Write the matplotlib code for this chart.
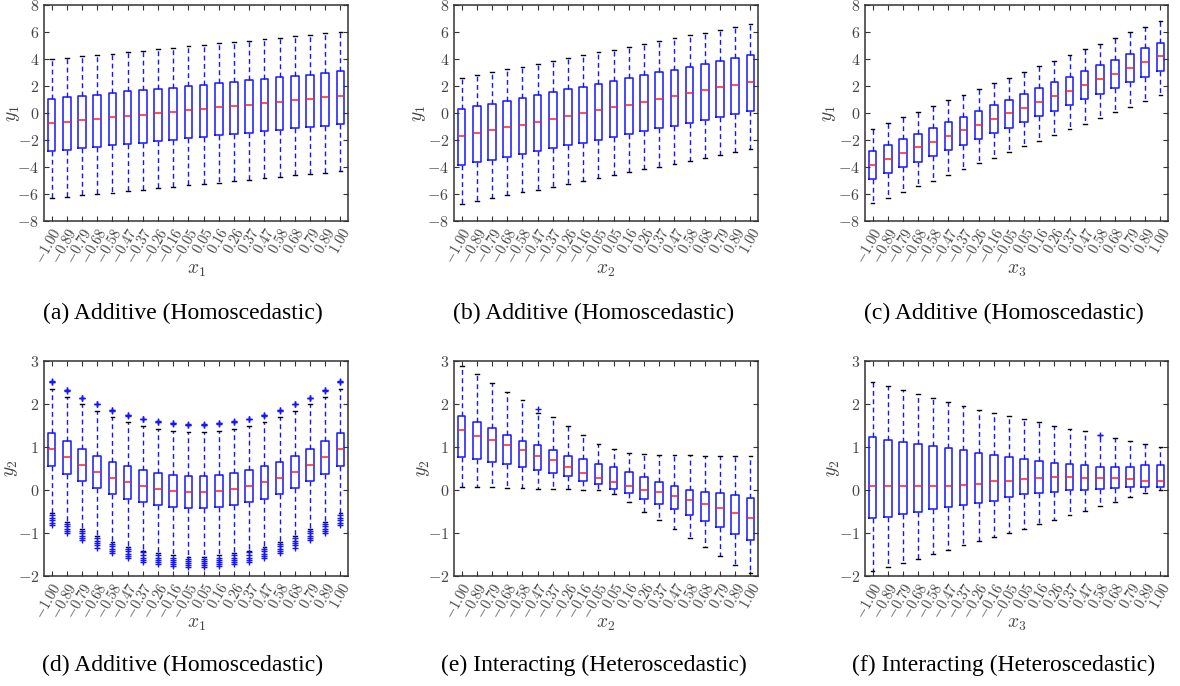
import matplotlib
matplotlib.use("Agg")
import matplotlib.pyplot as plt
import numpy as np

plt.rcParams['mathtext.fontset'] = 'cm'
plt.rcParams['font.family'] = ['Liberation Serif', 'DejaVu Serif']

xticklabels = ["-1.00", "-0.89", "-0.79", "-0.68", "-0.58", "-0.47", "-0.37", "-0.26", "-0.16", "-0.05",
               "0.05", "0.16", "0.26", "0.37", "0.47", "0.58", "0.68", "0.79", "0.89", "1.00"]

# Panel (a)
a_med = [-0.73, -0.65, -0.55, -0.42, -0.32, -0.21, -0.12, 0.00, 0.08, 0.20, 0.32, 0.42, 0.53, 0.62, 0.73, 0.83, 0.93, 1.05, 1.15, 1.27]
a_q3 = [1.03, 1.15, 1.25, 1.35, 1.47, 1.60, 1.67, 1.79, 1.87, 2.00, 2.09, 2.19, 2.31, 2.41, 2.51, 2.64, 2.71, 2.83, 2.93, 3.08]
a_q1 = [-2.83, -2.71, -2.61, -2.49, -2.39, -2.29, -2.19, -2.09, -1.97, -1.85, -1.77, -1.65, -1.55, -1.45, -1.35, -1.23, -1.13, -1.03, -0.93, -0.83]
a_hi = [4.00, 4.10, 4.20, 4.30, 4.40, 4.50, 4.62, 4.72, 4.82, 4.93, 5.05, 5.15, 5.25, 5.35, 5.47, 5.57, 5.67, 5.77, 5.90, 6.03]
a_lo = [-6.30, -6.20, -6.10, -6.00, -5.90, -5.80, -5.68, -5.58, -5.47, -5.35, -5.25, -5.15, -5.05, -4.93, -4.83, -4.72, -4.62, -4.52, -4.42, -4.32]

# Panel (b)
b_med = [-1.70, -1.49, -1.28, -1.07, -0.86, -0.65, -0.43, -0.22, -0.01, 0.20, 0.41, 0.62, 0.83, 1.04, 1.25, 1.46, 1.67, 1.89, 2.10, 2.31]
b_q3 = [0.28, 0.49, 0.70, 0.91, 1.12, 1.33, 1.54, 1.75, 1.96, 2.17, 2.38, 2.59, 2.80, 3.01, 3.22, 3.43, 3.64, 3.85, 4.06, 4.27]
b_q1 = [-3.87, -3.66, -3.45, -3.24, -3.03, -2.82, -2.61, -2.40, -2.19, -1.98, -1.77, -1.56, -1.35, -1.14, -0.93, -0.72, -0.51, -0.30, -0.09, 0.12]
b_hi = [2.61, 2.82, 3.02, 3.23, 3.44, 3.65, 3.86, 4.07, 4.28, 4.49, 4.70, 4.91, 5.12, 5.33, 5.54, 5.75, 5.96, 6.17, 6.38, 6.60]
b_lo = [-6.72, -6.50, -6.30, -6.08, -5.88, -5.67, -5.46, -5.24, -5.03, -4.82, -4.61, -4.40, -4.18, -3.97, -3.76, -3.55, -3.34, -3.13, -2.92, -2.70]

# Panel (c)
c_med = [-3.82, -3.40, -2.98, -2.55, -2.13, -1.71, -1.29, -0.87, -0.45, -0.03, 0.39, 0.81, 1.23, 1.66, 2.08, 2.50, 2.92, 3.34, 3.76, 4.19]
c_q3 = [-2.79, -2.37, -1.95, -1.52, -1.10, -0.68, -0.26, 0.16, 0.58, 1.00, 1.42, 1.84, 2.26, 2.69, 3.11, 3.53, 3.95, 4.37, 4.79, 5.21]
c_q1 = [-4.86, -4.44, -4.02, -3.60, -3.18, -2.76, -2.34, -1.92, -1.50, -1.08, -0.66, -0.24, 0.18, 0.60, 1.02, 1.44, 1.86, 2.28, 2.70, 3.13]
c_hi = [-1.17, -0.75, -0.33, 0.10, 0.52, 0.94, 1.36, 1.78, 2.20, 2.62, 3.04, 3.46, 3.88, 4.30, 4.72, 5.14, 5.56, 5.98, 6.40, 6.84]
c_lo = [-6.68, -6.27, -5.85, -5.42, -5.00, -4.58, -4.16, -3.74, -3.32, -2.90, -2.48, -2.06, -1.64, -1.22, -0.80, -0.38, 0.04, 0.46, 0.88, 1.30]

# Panel (d)
d_med = [0.96, 0.76, 0.58, 0.43, 0.29, 0.18, 0.09, 0.03, -0.02, -0.04, -0.04, -0.02, 0.03, 0.09, 0.18, 0.29, 0.43, 0.58, 0.76, 0.96]
d_q3 = [1.33, 1.13, 0.96, 0.80, 0.66, 0.55, 0.46, 0.39, 0.36, 0.33, 0.33, 0.36, 0.39, 0.46, 0.55, 0.66, 0.80, 0.96, 1.13, 1.33]
d_q1 = [0.565, 0.37, 0.20, 0.04, -0.09, -0.21, -0.29, -0.36, -0.40, -0.43, -0.43, -0.40, -0.36, -0.29, -0.21, -0.09, 0.04, 0.20, 0.37, 0.565]
d_hi = [2.36, 2.17, 1.99, 1.83, 1.70, 1.59, 1.49, 1.43, 1.38, 1.36, 1.36, 1.38, 1.43, 1.49, 1.59, 1.70, 1.83, 1.99, 2.17, 2.36]
d_lo = [-0.54, -0.74, -0.91, -1.08, -1.21, -1.32, -1.41, -1.47, -1.52, -1.55, -1.55, -1.52, -1.47, -1.41, -1.32, -1.21, -1.08, -0.91, -0.74, -0.54]
d_top_out = [2.52, 2.32, 2.14, 2.00, 1.85, 1.74, 1.65, 1.59, 1.55, 1.52, 1.52, 1.55, 1.59, 1.65, 1.74, 1.85, 2.00, 2.14, 2.32, 2.52]
d_low_out = [
    [-0.58, -0.64, -0.70, -0.76, -0.81],
    [-0.78, -0.84, -0.90, -0.95, -1.00],
    [-0.95, -1.01, -1.07, -1.12, -1.17],
    [-1.12, -1.18, -1.24, -1.29, -1.34],
    [-1.26, -1.31, -1.37, -1.42, -1.47],
    [-1.37, -1.43, -1.48, -1.53, -1.58],
    [-1.45, -1.51, -1.57, -1.62, -1.67],
    [-1.52, -1.57, -1.62, -1.67, -1.72],
    [-1.57, -1.62, -1.67, -1.72, -1.77],
    [-1.60, -1.65, -1.70, -1.75, -1.80],
    [-1.60, -1.65, -1.70, -1.75, -1.80],
    [-1.57, -1.62, -1.67, -1.72, -1.77],
    [-1.52, -1.57, -1.62, -1.67, -1.72],
    [-1.45, -1.51, -1.57, -1.62, -1.67],
    [-1.37, -1.43, -1.48, -1.53, -1.58],
    [-1.26, -1.31, -1.37, -1.42, -1.47],
    [-1.12, -1.18, -1.24, -1.29, -1.34],
    [-0.95, -1.01, -1.07, -1.12, -1.17],
    [-0.78, -0.84, -0.90, -0.95, -1.00],
    [-0.58, -0.64, -0.70, -0.76, -0.81],
]

# Panel (e)
e_med = [1.39, 1.26, 1.16, 1.05, 0.92, 0.80, 0.69, 0.54, 0.39, 0.28, 0.18, 0.09, 0.01, -0.05, -0.15, -0.24, -0.33, -0.42, -0.53, -0.66]
e_q3 = [1.71, 1.58, 1.45, 1.29, 1.15, 1.04, 0.92, 0.80, 0.71, 0.61, 0.53, 0.41, 0.31, 0.18, 0.09, 0.01, -0.04, -0.08, -0.12, -0.19]
e_q1 = [0.77, 0.71, 0.66, 0.60, 0.53, 0.47, 0.39, 0.33, 0.22, 0.13, 0.02, -0.08, -0.21, -0.33, -0.45, -0.58, -0.71, -0.87, -1.02, -1.17]
e_hi = [2.89, 2.70, 2.49, 2.28, 2.09, 1.80, 1.69, 1.48, 1.28, 1.07, 0.95, 0.87, 0.83, 0.81, 0.81, 0.81, 0.80, 0.80, 0.80, 0.80]
e_lo = [0.08, 0.07, 0.06, 0.05, 0.04, 0.03, 0.02, 0.02, 0.01, 0.00, -0.09, -0.29, -0.50, -0.70, -0.91, -1.12, -1.33, -1.54, -1.74, -1.94]
e_out = [[], [], [], [], [], [1.89], [], [], [], [], [], [], [], [], [], [], [], [], [], []]

# Panel (f)
f_med = [0.09, 0.09, 0.09, 0.09, 0.09, 0.10, 0.12, 0.15, 0.21, 0.22, 0.25, 0.27, 0.30, 0.31, 0.29, 0.28, 0.27, 0.26, 0.22, 0.22]
f_q3 = [1.23, 1.17, 1.11, 1.08, 1.02, 0.97, 0.92, 0.86, 0.81, 0.77, 0.73, 0.68, 0.63, 0.60, 0.57, 0.53, 0.53, 0.54, 0.57, 0.57]
f_q1 = [-0.66, -0.62, -0.56, -0.50, -0.44, -0.39, -0.36, -0.31, -0.25, -0.17, -0.10, -0.08, -0.05, -0.01, 0.01, 0.02, 0.04, 0.07, 0.07, 0.07]
f_hi = [2.52, 2.43, 2.33, 2.23, 2.13, 2.04, 1.95, 1.87, 1.80, 1.73, 1.65, 1.59, 1.50, 1.43, 1.37, 1.27, 1.21, 1.15, 1.07, 0.99]
f_lo = [-1.89, -1.80, -1.70, -1.60, -1.49, -1.39, -1.29, -1.19, -1.10, -0.99, -0.90, -0.79, -0.69, -0.59, -0.48, -0.37, -0.28, -0.17, -0.08, 0.00]
f_out = [[], [], [], [], [], [], [], [], [], [], [], [], [], [], [], [1.29], [], [], [], []]

panels = [
    dict(med=a_med, q3=a_q3, q1=a_q1, hi=a_hi, lo=a_lo, out=None, xl=r'$x_1$', yl=r'$y_1$',
         cap='(a) Additive (Homoscedastic)', ylim=(-8, 8), yt=[-8, -6, -4, -2, 0, 2, 4, 6, 8]),
    dict(med=b_med, q3=b_q3, q1=b_q1, hi=b_hi, lo=b_lo, out=None, xl=r'$x_2$', yl=r'$y_1$',
         cap='(b) Additive (Homoscedastic)', ylim=(-8, 8), yt=[-8, -6, -4, -2, 0, 2, 4, 6, 8]),
    dict(med=c_med, q3=c_q3, q1=c_q1, hi=c_hi, lo=c_lo, out=None, xl=r'$x_3$', yl=r'$y_1$',
         cap='(c) Additive (Homoscedastic)', ylim=(-8, 8), yt=[-8, -6, -4, -2, 0, 2, 4, 6, 8]),
    dict(med=d_med, q3=d_q3, q1=d_q1, hi=d_hi, lo=d_lo,
         out=[[t, t - 0.01, t + 0.01] + lo for t, lo in zip(d_top_out, d_low_out)],
         xl=r'$x_1$', yl=r'$y_2$', cap='(d) Additive (Homoscedastic)', ylim=(-2, 3), yt=[-2, -1, 0, 1, 2, 3]),
    dict(med=e_med, q3=e_q3, q1=e_q1, hi=e_hi, lo=e_lo, out=e_out, xl=r'$x_2$', yl=r'$y_2$',
         cap='(e) Interacting (Heteroscedastic)', ylim=(-2, 3), yt=[-2, -1, 0, 1, 2, 3]),
    dict(med=f_med, q3=f_q3, q1=f_q1, hi=f_hi, lo=f_lo, out=f_out, xl=r'$x_3$', yl=r'$y_2$',
         cap='(f) Interacting (Heteroscedastic)', ylim=(-2, 3), yt=[-2, -1, 0, 1, 2, 3]),
]

W, H = 1180, 686
fig = plt.figure(figsize=(W / 100, H / 100), dpi=100)

lefts = [44, 454, 865]
rights = [348, 758, 1168]
tops = [5, 361]
bottoms = [221, 576]
cap_x = [183, 594, 1004]
cap_y = [313, 665]
ylab_x = [[13, 420, 830], [12, 423, 833]]

tick_col = '#444444'
for i, p in enumerate(panels):
    r, c = divmod(i, 3)
    l, rr = lefts[c], rights[c]
    t, b = tops[r], bottoms[r]
    ax = fig.add_axes([l / W, 1 - b / H, (rr - l) / W, (b - t) / H])
    stats = []
    for k in range(20):
        fl = p['out'][k] if p['out'] is not None else []
        stats.append(dict(med=p['med'][k], q1=p['q1'][k], q3=p['q3'][k],
                          whislo=p['lo'][k], whishi=p['hi'][k], fliers=fl))
    pos = np.arange(1, 21)
    ax.bxp(stats, positions=pos, widths=0.5, capwidths=0.25, showfliers=True,
           boxprops=dict(color='#1515ff', linewidth=1.1),
           medianprops=dict(color='#ff2020', linewidth=1.1),
           whiskerprops=dict(color='#1515ff', linestyle=(0, (3.5, 2.5)), linewidth=1.0),
           capprops=dict(color='black', linewidth=1.0),
           flierprops=dict(marker='+', markeredgecolor='#1515ff', markersize=5, markeredgewidth=1.0))
    ax.set_xlim(0.5, 20.5)
    ax.set_ylim(*p['ylim'])
    ax.set_yticks(p['yt'])
    ax.set_yticklabels(['$%d$' % v if v >= 0 else '$-%d$' % (-v) for v in p['yt']], fontsize=11.5, color=tick_col)
    ax.set_xticks(pos)
    ax.set_xticklabels(['$%s$' % s for s in xticklabels], rotation=60, ha='right',
                       rotation_mode='anchor', fontsize=10.5, color=tick_col)
    ax.tick_params(direction='in', top=True, right=True, length=3.5, width=0.8, color='#333333')
    ax.tick_params(axis='x', pad=3)
    for s in ax.spines.values():
        s.set_color('#333333')
        s.set_linewidth(1.1)
    fig.text(ylab_x[r][c] / W, 1 - ((t + b) / 2) / H, p['yl'], rotation=90, ha='center', va='center',
             fontsize=14, color=tick_col)
    ax.text(0.5, -0.227, p['xl'], transform=ax.transAxes, ha='center', va='center',
            fontsize=14, color=tick_col)
    fig.text(cap_x[c] / W, 1 - cap_y[r] / H, p['cap'], ha='center', va='center',
             fontsize=17, family='Liberation Serif', color='black')

fig.savefig('out.png', dpi=100)
